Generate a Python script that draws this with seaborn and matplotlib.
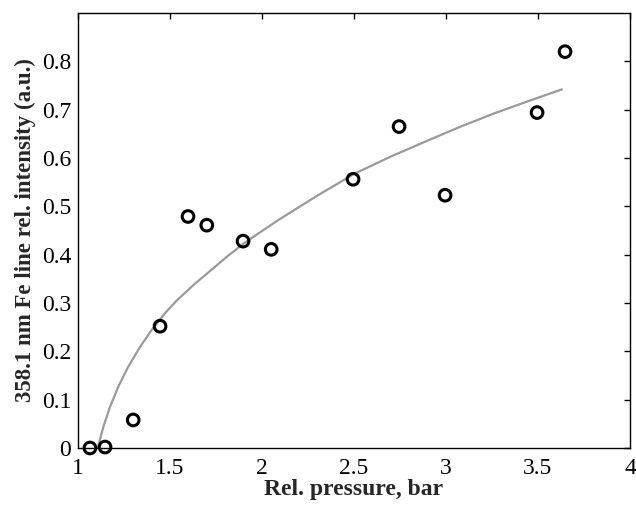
import matplotlib
matplotlib.use("Agg")
import matplotlib.pyplot as plt
import seaborn as sns
import pandas as pd

# measured points
pressure = [1.065, 1.147, 1.30, 1.446, 1.598, 1.70, 1.897, 2.05, 2.495, 2.745, 2.995, 3.495, 3.647]
intensity = [0.0, 0.002, 0.058, 0.252, 0.479, 0.461, 0.428, 0.411, 0.556, 0.665, 0.523, 0.694, 0.820]

# fitted curve
fit_x = [1.107, 1.138, 1.174, 1.219, 1.273, 1.337, 1.40, 1.473, 1.536, 1.63, 1.72, 1.81,
         1.90, 2.00, 2.09, 2.30, 2.50, 2.70, 2.90, 3.08, 3.26, 3.45, 3.63]
fit_y = [0.0, 0.044, 0.085, 0.127, 0.168, 0.209, 0.244, 0.279, 0.305, 0.338, 0.367, 0.396,
         0.423, 0.449, 0.472, 0.522, 0.567, 0.603, 0.636, 0.665, 0.692, 0.718, 0.742]

xticks = [1, 1.5, 2, 2.5, 3, 3.5, 4]
xtick_labels = ["1", "1.5", "2", "2.5", "3", "3.5", "4"]
yticks = [0, 0.1, 0.2, 0.3, 0.4, 0.5, 0.6, 0.7, 0.8]
ytick_labels = ["0", "0.1", "0.2", "0.3", "0.4", "0.5", "0.6", "0.7", "0.8"]

sns.set_theme(style="white")
plt.rcParams["font.family"] = ["Liberation Serif", "DejaVu Serif"]

fig = plt.figure(figsize=(6.36, 5.05), dpi=100)
ax = fig.add_axes([78/636, 1 - 448/505, (630 - 78)/636, (448 - 13)/505])

df_pts = pd.DataFrame({"p": pressure, "i": intensity})
df_fit = pd.DataFrame({"p": fit_x, "i": fit_y})

sns.lineplot(data=df_fit, x="p", y="i", ax=ax, color="#9a9a9a", linewidth=1.6, sort=True)
sns.scatterplot(data=df_pts, x="p", y="i", ax=ax, s=70, facecolor="none",
                edgecolor="black", linewidth=2.2, marker="o", zorder=3, clip_on=False)

ax.set_xlim(1, 4)
ax.set_ylim(0, 0.9)
ax.set_xticks(xticks)
ax.set_xticklabels(xtick_labels)
ax.set_yticks(yticks)
ax.set_yticklabels(ytick_labels)
ax.tick_params(direction="in", length=4, width=1, labelsize=17, top=True, right=True,
               colors="black", pad=5)
ax.tick_params(axis="x", pad=7)
for sp in ax.spines.values():
    sp.set_color("black")
    sp.set_linewidth(1.0)

ax.set_xlabel("Rel. pressure, bar", fontsize=17, fontweight="bold", labelpad=0)
ax.set_ylabel("358.1 nm Fe line rel. intensity (a.u.)", fontsize=16.5, fontweight="bold", labelpad=4)

fig.savefig("out.png", dpi=100, facecolor="white")
